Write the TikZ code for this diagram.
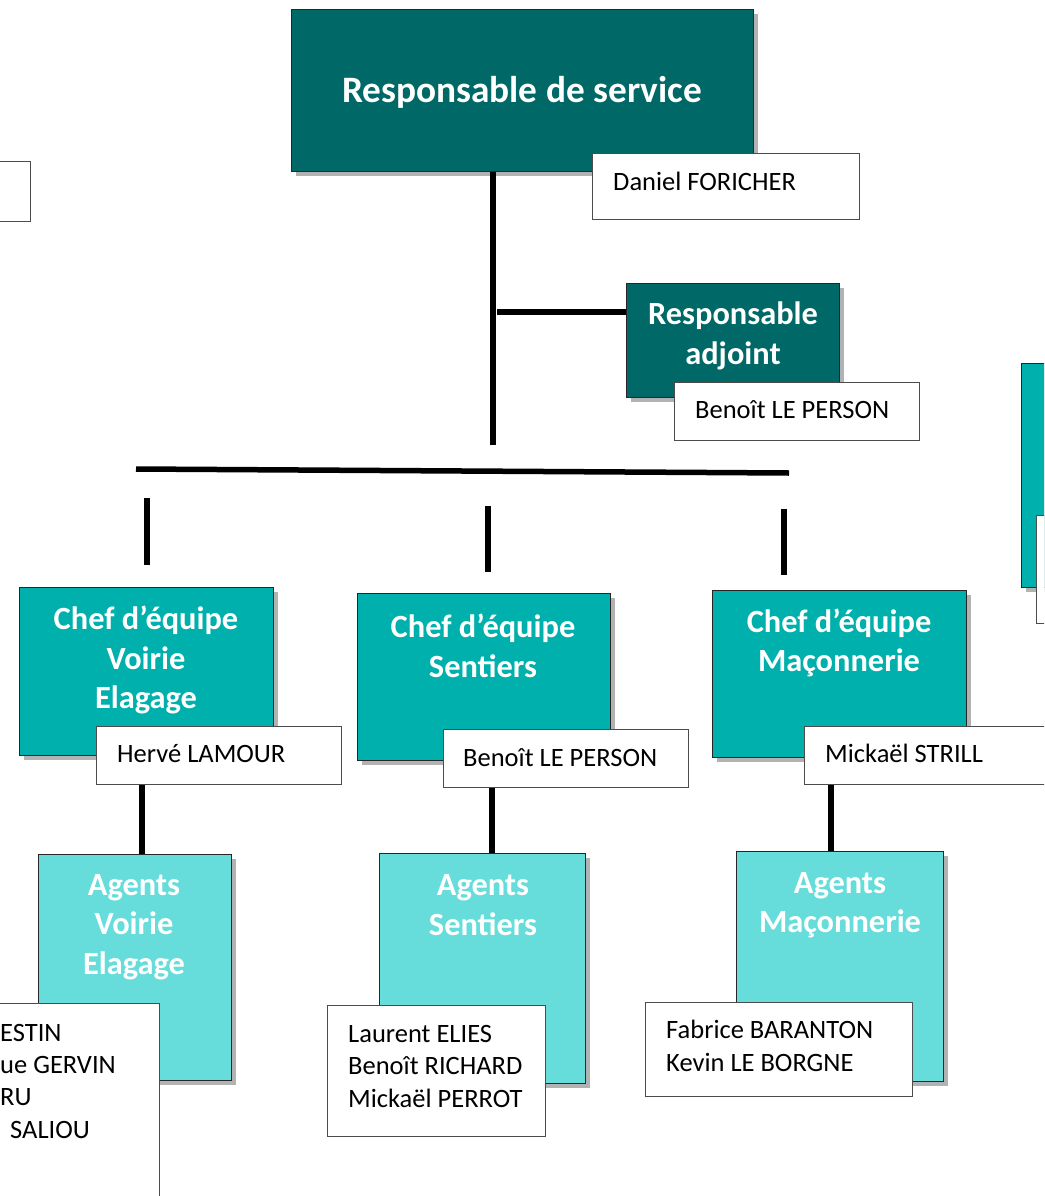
\documentclass[tikz,border=0pt]{standalone}
\usepackage{fontspec}
\setmainfont{Carlito}
\usetikzlibrary{shadows}
\definecolor{tdark}{RGB}{0,104,102}
\definecolor{tmid}{RGB}{0,176,172}
\definecolor{tlight}{RGB}{102,221,219}
\begin{document}
\begin{tikzpicture}[x=1pt,y=-1pt,
  box/.style={draw=black!85, line width=1.2pt, inner sep=0pt, anchor=north west,
    drop shadow={shadow xshift=4pt, shadow yshift=-4pt, fill=black, opacity=0.3}},
  dbox/.style={box, fill=tdark},
  mbox/.style={box, fill=tmid},
  lbox/.style={box, fill=tlight},
  namebox/.style={draw=black!70, line width=1.2pt, fill=white, inner sep=0pt, anchor=north west},
  hdr/.style={text=white, font=\bfseries\fontsize{32.4}{39.5}\selectfont, align=center, inner sep=0pt},
  nm/.style={font=\fontsize{26.5}{32.3}\selectfont, anchor=base west, inner sep=0pt, align=left},
  conn/.style={line width=5.5pt, black}]
\clip (0,0) rectangle (1044,1196);
\fill[white] (0,0) rectangle (1044,1196);

% top
\node[dbox, minimum width=462pt, minimum height=162pt] (rs) at (291,9) {};
\node[hdr, font=\bfseries\fontsize{37.3}{45}\selectfont] (rst) at (522,92) {Responsable de service};
\node[namebox, minimum width=267pt, minimum height=66pt] (df) at (592,153) {};
\node[nm] (dft) at (613,190) {Daniel FORICHER};

\node[namebox, minimum width=50pt, minimum height=60pt] (lp) at (-20,161) {};

% adjoint
\node[dbox, minimum width=213pt, minimum height=114pt] (ra) at (626,283) {};
\node[hdr] (rat) at (733,336) {Responsable\\adjoint};
\node[namebox, minimum width=245pt, minimum height=58pt] (blp) at (674,382) {};
\node[nm] (blpt) at (695,418) {Benoît LE PERSON};

% right partial
\node[mbox, minimum width=60pt, minimum height=224pt] (rp) at (1021,363) {};
\node[namebox, minimum width=40pt, minimum height=108pt] (rpw) at (1036,515) {};

% connectors top
\coordinate (vend) at (493,445);
\draw[conn] (rs.south -| vend) -- (vend);
\coordinate (br) at (497,312);
\draw[conn] (br) -- (br -| ra.west);
\coordinate (barL) at (136,469);
\coordinate (barR) at (789,473);
\draw[conn] (barL) -- (barR);
\coordinate (s1a) at (147,498); \coordinate (s1b) at (147,565);
\coordinate (s2a) at (488,506); \coordinate (s2b) at (488,572);
\coordinate (s3a) at (784,509); \coordinate (s3b) at (784,575);
\draw[conn] (s1a) -- (s1b);
\draw[conn] (s2a) -- (s2b);
\draw[conn] (s3a) -- (s3b);

% chefs
\node[mbox, minimum width=254pt, minimum height=168pt] (cv) at (19,587) {};
\node[hdr] (cvt) at (146,660) {Chef d’équipe\\Voirie\\Elagage};
\node[namebox, minimum width=245pt, minimum height=58pt] (hl) at (96,726) {};
\node[nm] (hlt) at (117,762) {Hervé LAMOUR};

\node[mbox, minimum width=253pt, minimum height=167pt] (cs) at (357,593) {};
\node[hdr] (cst) at (483,646) {Chef d’équipe\\Sentiers};
\node[namebox, minimum width=245pt, minimum height=58pt] (bl2) at (443,729) {};
\node[nm] (bl2t) at (463,766) {Benoît LE PERSON};

\node[mbox, minimum width=254pt, minimum height=167pt] (cm) at (712,590) {};
\node[hdr] (cmt) at (839,643) {Chef d’équipe\\Maçonnerie};
\node[namebox, minimum width=260pt, minimum height=58pt] (ms) at (804,726) {};
\node[nm] (mst) at (825,762) {Mickaël STRILL};

% agents
\node[lbox, minimum width=193pt, minimum height=226pt] (av) at (38,854) {};
\node[hdr] (avt) at (134,927) {Agents\\Voirie\\Elagage};
\node[lbox, minimum width=206pt, minimum height=230pt] (as) at (379,853) {};
\node[hdr] (ast) at (483,905) {Agents\\Sentiers};
\node[lbox, minimum width=207pt, minimum height=230pt] (am) at (736,851) {};
\node[hdr] (amt) at (840,905) {Agents\\Maçonnerie};

\coordinate (c1) at (142,0);
\coordinate (c2) at (492,0);
\coordinate (c3) at (831,0);
\draw[conn] (hl.south -| c1) -- (av.north -| c1);
\draw[conn] (bl2.south -| c2) -- (as.north -| c2);
\draw[conn] (ms.south -| c3) -- (am.north -| c3);

% agent names
\node[namebox, minimum width=179pt, minimum height=220pt] (avn) at (-20,1003) {};
\node[nm] (avn1) at (0,1041) {ESTIN};
\node[nm] (avn2) at (0,1073) {ue GERVIN};
\node[nm] (avn3) at (0,1105) {RU};
\node[nm] (avn4) at (10,1138) {SALIOU};

\node[namebox, minimum width=218pt, minimum height=131pt] (asn) at (327,1005) {};
\node[nm] (asnt) at (348,1107) {Laurent ELIES\\Benoît RICHARD\\Mickaël PERROT};

\node[namebox, minimum width=267pt, minimum height=94pt] (amn) at (645,1002) {};
\node[nm] (amnt) at (666,1071) {Fabrice BARANTON\\Kevin LE BORGNE};
\end{tikzpicture}
\end{document}
